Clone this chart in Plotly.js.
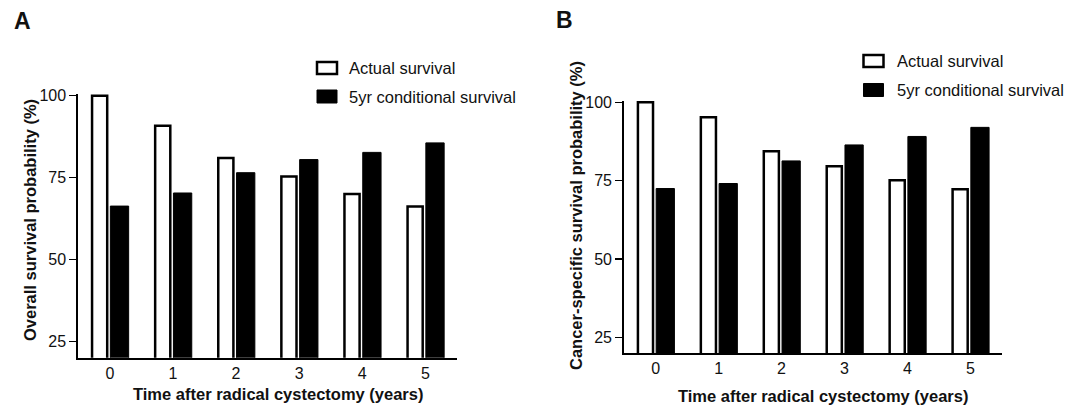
<!DOCTYPE html>
<html>
<head>
<meta charset="utf-8">
<script src="https://cdn.plot.ly/plotly-3.0.1.min.js"></script>
<style>html,body{margin:0;padding:0;background:#fff;}#chart{width:1078px;height:405px;}</style>
</head>
<body>
<div id="chart"></div>
<script>
// ---- data ----
var years = [0, 1, 2, 3, 4, 5];
var tickLabels = ["0", "1", "2", "3", "4", "5"];
var seriesNames = ["Actual survival", "5yr conditional survival"];
var osActual = [100, 90.8, 81.0, 75.3, 70.0, 66.2];
var osConditional = [66.3, 70.3, 76.5, 80.5, 82.7, 85.6];
var cssActual = [100, 95.2, 84.4, 79.6, 75.1, 72.3];
var cssConditional = [72.5, 74.1, 81.3, 86.4, 89.1, 92.0];
var yTicks = [25, 50, 75, 100];

var W = 1078, H = 405;
function px(x) { return x / W; }
function py(y) { return (H - y) / H; }
var FONT = "Arial, 'Liberation Sans', sans-serif";
var TXT = "#111";

function barPair(xa, ya, actual, cond) {
  return [
    {type: "bar", x: years, y: actual, name: seriesNames[0], xaxis: xa, yaxis: ya,
     width: 0.24, offset: -0.282,
     marker: {color: "#ffffff", line: {color: "#000", width: 2.5}}, showlegend: false, hoverinfo: "x+y"},
    {type: "bar", x: years, y: cond, name: seriesNames[1], xaxis: xa, yaxis: ya,
     width: 0.29, offset: 0.008,
     marker: {color: "#000000", line: {color: "#000", width: 1}}, showlegend: false, hoverinfo: "x+y"}
  ];
}

var data = barPair("x", "y", osActual, osConditional).concat(barPair("x2", "y2", cssActual, cssConditional));

function xax(domain, anchor) {
  return {domain: domain, anchor: anchor, range: [-0.5, 5.5], tickvals: years, ticktext: tickLabels,
    showline: true, linecolor: "#000", linewidth: 2, ticks: "",
    showgrid: false, zeroline: false, fixedrange: true,
    tickfont: {family: FONT, size: 16, color: TXT}};
}
function yax(domain, anchor) {
  return {domain: domain, anchor: anchor, range: [20, 100.5], tickvals: yTicks,
    showline: true, linecolor: "#000", linewidth: 2, ticks: "outside", ticklen: 7, tickwidth: 1.5, tickcolor: "#000",
    showgrid: false, zeroline: false, fixedrange: true,
    tickfont: {family: FONT, size: 16, color: TXT}};
}

var shapes = [];
var annotations = [];
function legend(bx0, bx1, r1, r2, tx) {
  shapes.push({type: "rect", xref: "paper", yref: "paper", x0: px(bx0), x1: px(bx1), y0: py(r1[0]), y1: py(r1[1]),
    fillcolor: "#fff", line: {color: "#000", width: 2.5}});
  shapes.push({type: "rect", xref: "paper", yref: "paper", x0: px(bx0), x1: px(bx1), y0: py(r2[0]), y1: py(r2[1]),
    fillcolor: "#000", line: {color: "#000", width: 1}});
  annotations.push({xref: "paper", yref: "paper", x: px(tx), y: py((r1[0] + r1[1]) / 2), xanchor: "left", yanchor: "middle",
    text: seriesNames[0], showarrow: false, font: {family: FONT, size: 16.5, color: TXT}});
  annotations.push({xref: "paper", yref: "paper", x: px(tx), y: py((r2[0] + r2[1]) / 2), xanchor: "left", yanchor: "middle",
    text: seriesNames[1], showarrow: false, font: {family: FONT, size: 16.5, color: TXT}});
}
legend(317, 337, [62, 74], [90, 103], 347);
legend(863.5, 883.5, [55, 67], [83.5, 96.5], 894.5);

function txt(x, y, t, size, angle) {
  annotations.push({xref: "paper", yref: "paper", x: px(x), y: py(y), xanchor: "center", yanchor: "middle",
    text: t, showarrow: false, textangle: angle || 0, font: {family: FONT, size: size, color: TXT, weight: "bold"}});
}
txt(22, 21, "<b>A</b>", 23);
txt(564, 20, "<b>B</b>", 23);
txt(277.5, 393.5, "<b>Time after radical cystectomy (years)</b>", 16.5);
txt(822.5, 395.5, "<b>Time after radical cystectomy (years)</b>", 16.5);
txt(30, 220, "<b>Overall survival probability (%)</b>", 16.5, -90);
txt(576, 216, "<b>Cancer-specific survival probability (%)</b>", 16.5, -90);

var layout = {
  width: W, height: H,
  margin: {l: 0, r: 0, t: 0, b: 0},
  paper_bgcolor: "#fff", plot_bgcolor: "#fff",
  barmode: "overlay",
  showlegend: false,
  xaxis: xax([px(78.3), px(456.9)], "y"),
  yaxis: yax([py(357.7), py(94.1)], "x"),
  xaxis2: xax([px(624.2), px(1001.8)], "y2"),
  yaxis2: yax([py(353.2), py(100.7)], "x2"),
  shapes: shapes,
  annotations: annotations,
  font: {family: FONT, color: TXT}
};

Plotly.newPlot("chart", data, layout, {displayModeBar: false, staticPlot: true});
</script>
</body>
</html>
